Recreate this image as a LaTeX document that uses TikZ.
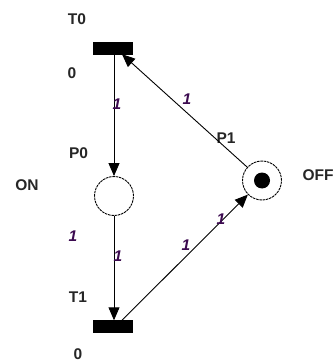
\documentclass[tikz,border=0pt]{standalone}
\usepackage{fontspec}
\setmainfont{Liberation Sans}
\usetikzlibrary{arrows.meta}
\definecolor{wcol}{RGB}{60,10,80}
\tikzset{
  trans/.style={fill=black, draw=black, inner sep=0pt, minimum width=39pt, minimum height=12pt},
  place/.style={circle, draw=black, line width=0.9pt, dash pattern=on 2.5pt off 0.8pt, minimum size=39pt, inner sep=0pt},
  token/.style={circle, fill=black, minimum size=16pt, inner sep=0pt},
  lbl/.style={font=\fontsize{15.5pt}{15.5pt}\selectfont\bfseries, text=black!85, inner sep=0pt},
  wlbl/.style={font=\fontsize{15.5pt}{15.5pt}\selectfont\bfseries\itshape, text=wcol, inner sep=0pt},
  arc/.style={line width=0.9pt, -{Triangle[length=13pt,width=11pt]}}
}
\begin{document}
\begin{tikzpicture}[x=1pt,y=-1pt]
\useasboundingbox (0,0) rectangle (336,363);
% transitions and places
\node[trans] (t0) at (113,48) {};
\node[trans] (t1) at (113,326.5) {};
\node[place] (p0) at (114,196) {};
\node[place] (p1) at (262,180.5) {};
\node[token] (tok) at (262,180.5) {};
% labels
\node[lbl] (lt0) at (77,19.5) {T0};
\node[lbl] (lt0b) at (72,73.5) {0};
\node[lbl] (lp0) at (78.5,153.5) {P0};
\node[lbl] (lon) at (27,185) {ON};
\node[wlbl] (lp0m) at (73,236) {1};
\node[lbl] (lt1) at (78,297.5) {T1};
\node[lbl] (lt1b) at (78,354) {0};
\node[lbl] (lp1) at (226,138) {P1};
\node[lbl] (loff) at (318,175) {OFF};
% arcs
\coordinate (t0b) at ([xshift=9pt]t0.south);
\coordinate (t1t) at ([xshift=9pt]t1.north);
\draw[arc] (t0.south -| p0) -- (p0);
\draw[arc] (p0) -- (t1.north -| p0);
\draw[arc] (t1t) -- (p1);
\draw[arc] (p1) -- (t0b);
% weights
\node[wlbl] (w1) at (117,104) {1};
\node[wlbl] (w2) at (118,256) {1};
\node[wlbl] (w3) at (186,245) {1};
\node[wlbl] (w4) at (221,219) {1};
\node[wlbl] (w5) at (187,99.5) {1};
\end{tikzpicture}
\end{document}
